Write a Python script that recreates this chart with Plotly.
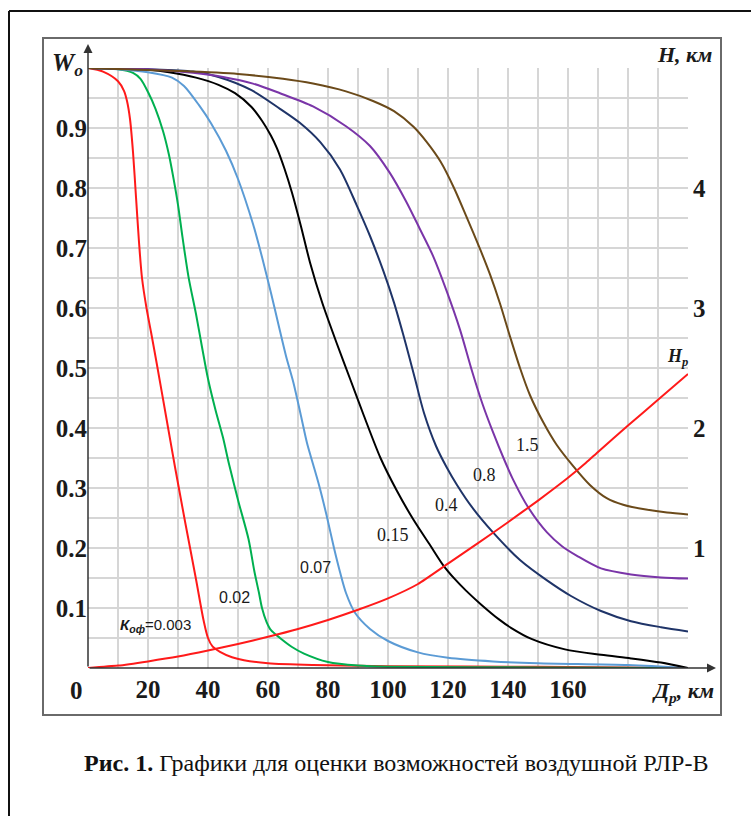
import plotly.graph_objects as go

# ---------------- data ----------------
# distance, km  /  W_o
x_003 = [0, 5, 10, 12, 13, 14, 15, 16, 17, 18, 19.5, 21, 23, 26, 29, 32.5, 36, 38.5, 40, 41.5, 44, 48, 52, 60, 75, 100, 150, 200]
w_003 = [1.0, 0.994, 0.978, 0.962, 0.945, 0.915, 0.86, 0.785, 0.71, 0.65, 0.6, 0.56, 0.505, 0.42, 0.335, 0.24, 0.148, 0.08, 0.05, 0.036, 0.027, 0.018, 0.013, 0.008, 0.005, 0.003, 0.002, 0.0]

x_002 = [0, 10, 15, 17.5, 20, 22.5, 25, 27, 28.5, 30, 31.5, 33.5, 36, 38, 40, 42.5, 45, 47, 50, 53.5, 55.5, 57, 58, 59.5, 61, 64, 68, 72, 80, 90, 100, 150, 200]
w_002 = [1.0, 0.998, 0.992, 0.982, 0.96, 0.932, 0.895, 0.855, 0.816, 0.772, 0.718, 0.652, 0.59, 0.535, 0.482, 0.43, 0.384, 0.34, 0.28, 0.215, 0.16, 0.125, 0.10, 0.077, 0.063, 0.05, 0.035, 0.024, 0.01, 0.004, 0.002, 0.001, 0.0]

x_007 = [0, 10, 20, 28, 32, 37, 41, 46, 50, 55, 58, 61, 63.5, 66, 68.5, 71, 73, 75, 77, 79.5, 82, 84, 86, 89, 94, 100, 110, 120, 135, 150, 180, 200]
w_007 = [1.0, 0.998, 0.993, 0.984, 0.97, 0.938, 0.908, 0.862, 0.815, 0.74, 0.685, 0.625, 0.572, 0.52, 0.475, 0.42, 0.375, 0.34, 0.305, 0.255, 0.2, 0.16, 0.125, 0.092, 0.065, 0.045, 0.026, 0.017, 0.011, 0.008, 0.005, 0.0]

x_015 = [0, 10, 20, 27, 36, 43.5, 49, 54.5, 58, 61, 63, 65.5, 68, 71, 74, 78, 83, 87.5, 92, 97.5, 103, 108.5, 114, 118.3, 122.3, 126, 131, 137, 141, 148, 159, 171, 181, 191, 200]
w_015 = [1.0, 0.999, 0.997, 0.993, 0.984, 0.972, 0.958, 0.935, 0.912, 0.887, 0.866, 0.832, 0.792, 0.736, 0.676, 0.61, 0.54, 0.48, 0.42, 0.35, 0.295, 0.247, 0.205, 0.172, 0.148, 0.129, 0.106, 0.081, 0.067, 0.048, 0.031, 0.022, 0.016, 0.009, 0.0]

x_04 = [0, 20, 35, 43.5, 54.5, 64, 70.5, 77.5, 84, 89.5, 94, 98.5, 102, 105, 107, 109, 112, 116, 119.5, 123, 128, 135, 144, 153, 161, 171, 181, 191, 200]
w_04 = [1.0, 0.998, 0.994, 0.985, 0.963, 0.932, 0.909, 0.876, 0.831, 0.772, 0.72, 0.661, 0.609, 0.557, 0.52, 0.482, 0.425, 0.37, 0.335, 0.305, 0.268, 0.226, 0.18, 0.146, 0.12, 0.095, 0.078, 0.068, 0.061]

x_08 = [0, 20, 35, 45, 55, 64, 75, 86, 94, 100.5, 106, 110.5, 115, 119.5, 124, 128, 131.5, 135, 138.5, 141.7, 146.7, 153, 158, 163, 171, 181, 191, 200]
w_08 = [1.0, 0.998, 0.992, 0.985, 0.974, 0.958, 0.936, 0.903, 0.87, 0.826, 0.778, 0.733, 0.687, 0.629, 0.564, 0.495, 0.44, 0.393, 0.35, 0.314, 0.268, 0.226, 0.203, 0.187, 0.166, 0.156, 0.151, 0.149]

x_15 = [0, 30, 50, 65, 75, 86, 95, 102, 108.5, 113, 117.5, 122, 126, 130.7, 134, 137.3, 140.7, 144, 147.3, 151.8, 156.2, 161.8, 167.3, 172.9, 178.4, 186, 193, 200]
w_15 = [1.0, 0.995, 0.99, 0.982, 0.974, 0.961, 0.945, 0.928, 0.902, 0.876, 0.844, 0.8, 0.754, 0.698, 0.656, 0.608, 0.552, 0.5, 0.455, 0.409, 0.372, 0.336, 0.305, 0.283, 0.272, 0.264, 0.259, 0.256]

# H_p, km (right axis)
x_hp = [0, 10, 20, 30, 40, 50, 60, 70, 80, 90, 100, 110, 120, 130, 140, 150, 160, 166, 170, 180, 190, 200]
h_hp = [0, 0.02, 0.055, 0.095, 0.145, 0.2, 0.26, 0.325, 0.4, 0.485, 0.58, 0.7, 0.87, 1.04, 1.215, 1.395, 1.585, 1.71, 1.8, 2.02, 2.235, 2.45]

x_ticks = [20, 40, 60, 80, 100, 120, 140, 160]
y_ticks = [0.1, 0.2, 0.3, 0.4, 0.5, 0.6, 0.7, 0.8, 0.9]
h_ticks = [1, 2, 3, 4]

series = [
    ("0.003", x_003, w_003, "#ff1a1a"),
    ("0.02", x_002, w_002, "#00b050"),
    ("0.07", x_007, w_007, "#5b9bd5"),
    ("0.15", x_015, w_015, "#000000"),
    ("0.4", x_04, w_04, "#1f3468"),
    ("0.8", x_08, w_08, "#7a35a8"),
    ("1.5", x_15, w_15, "#6b4a1a"),
]

# ---------------- layout geometry (pixels) ----------------
W, H = 751, 816
L, R, T, B = 88, 688, 68, 668
PW, PH = R - L, B - T


def px(xp):
    return (xp - L) / PW


def py(yp):
    return (B - yp) / PH


fig = go.Figure()
for name, xs, ws, col in series:
    fig.add_trace(go.Scatter(x=xs, y=ws, mode="lines", name=name,
                             line=dict(color=col, width=2, shape="spline", smoothing=0.8),
                             showlegend=False, hoverinfo="skip"))
fig.add_trace(go.Scatter(x=x_hp, y=h_hp, mode="lines", yaxis="y2", name="Hp",
                         line=dict(color="#ff1a1a", width=2, shape="spline", smoothing=0.5),
                         showlegend=False, hoverinfo="skip"))

serif = "Liberation Serif, Times New Roman, serif"
sans = "Liberation Sans, Arial, sans-serif"
txt = "#1a1a1a"
grid = "#d6d6d6"

xt_vals = list(range(10, 201, 10))
xt_text = [str(v) if v in x_ticks else " " for v in xt_vals]
yt_vals = [round(0.05 * i, 2) for i in range(1, 21)]
yt_text = [("%.1f" % v) if any(abs(v - t) < 1e-9 for t in y_ticks) else " " for v in yt_vals]

fig.update_layout(
    width=W, height=H, autosize=False,
    margin=dict(l=L, r=W - R, t=T, b=H - B, pad=0),
    paper_bgcolor="white", plot_bgcolor="white",
    xaxis=dict(range=[0, 200], tickvals=xt_vals, ticktext=xt_text,
               showgrid=True, gridcolor=grid, gridwidth=1.5, zeroline=False,
               showline=False, ticks="", ticklabelstandoff=4,
               tickfont=dict(family=serif, size=25, color=txt, weight="bold")),
    yaxis=dict(range=[0, 1], tickvals=yt_vals, ticktext=yt_text,
               showgrid=True, gridcolor=grid, gridwidth=1.5, zeroline=False,
               showline=False, ticks="", ticklabelstandoff=0,
               tickfont=dict(family=serif, size=25, color=txt, weight="bold")),
    yaxis2=dict(range=[0, 5], overlaying="y", side="right", tickvals=h_ticks,
                showgrid=False, zeroline=False, showline=False, ticks="",
                ticklabelstandoff=4,
                tickfont=dict(family=serif, size=25, color=txt, weight="bold")),
)

shapes = []
# outer black frame (top and left edges visible)
shapes.append(dict(type="line", xref="paper", yref="paper", x0=px(9), y0=py(11), x1=px(760), y1=py(11),
                   line=dict(color="#111111", width=2)))
shapes.append(dict(type="line", xref="paper", yref="paper", x0=px(9), y0=py(11), x1=px(9), y1=py(830),
                   line=dict(color="#111111", width=2)))
# inner grey frame
shapes.append(dict(type="rect", xref="paper", yref="paper", x0=px(43), y0=py(38), x1=px(721), y1=py(715),
                   line=dict(color="#6a6a6a", width=2), fillcolor="rgba(0,0,0,0)"))
fig.update_layout(shapes=shapes)

ann = []
# axes with arrows
ann.append(dict(xref="paper", yref="paper", x=0, y=py(44), ax=0, ay=B - 44, axref="pixel", ayref="pixel",
                text="", showarrow=True, arrowhead=2, arrowsize=1.2, arrowwidth=1.5, arrowcolor="#333333",
                standoff=0, startstandoff=0))
ann.append(dict(xref="paper", yref="paper", x=px(716), y=0, ax=-(716 - L), ay=0,
                text="", showarrow=True, arrowhead=2, arrowsize=1.2, arrowwidth=1.5, arrowcolor="#333333",
                standoff=0, startstandoff=0))


def label(text, x, y, size, family=serif, xanchor="center", color=txt, weight="normal"):
    ann.append(dict(xref="paper", yref="paper", x=px(x), y=py(y), text=text, showarrow=False,
                    xanchor=xanchor, yanchor="middle",
                    font=dict(family=family, size=size, color=color, weight=weight)))


label("0", 76, 690, 25, weight="bold")
label("<b><i>W<sub>o</sub></i></b>", 67, 64, 25)
label("<b><i>H, км</i></b>", 684, 55, 22)
label("<b><i>Д<sub>р</sub>, км</i></b>", 683, 692, 22)
label("<b><i>H<sub>p</sub></i></b>", 677, 357, 18)

label("<b><i>К<sub>оф</sub></i></b>=0.003", 155, 625, 15, family=sans)
label("0.02", 234, 597, 16, family=sans)
label("0.07", 315, 567, 16, family=sans)
label("0.15", 393, 535, 18)
label("0.4", 446, 505, 18)
label("0.8", 484, 475, 18)
label("1.5", 527, 445, 18)

# caption
label("<b>Рис. 1.</b> Графики для оценки возможностей воздушной РЛР-В", 396, 763, 24, color="#111111")

fig.update_layout(annotations=ann)

fig.write_html("out.html")
